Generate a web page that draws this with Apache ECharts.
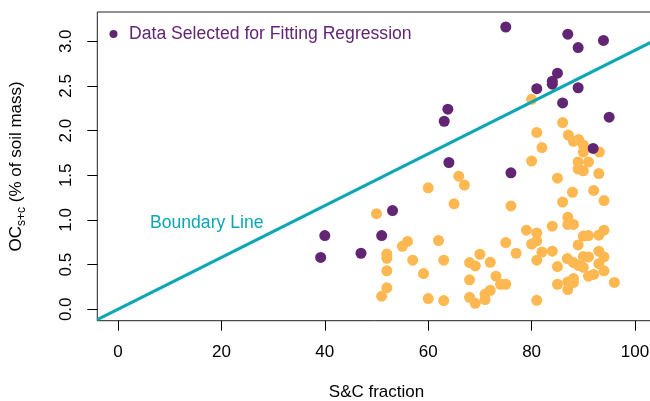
<!DOCTYPE html>
<html>
<head>
<meta charset="utf-8">
<title>boundary line</title>
<script src="https://cdn.jsdelivr.net/npm/echarts@6/dist/echarts.min.js"></script>
<style>
  html, body { margin: 0; padding: 0; background: #fff; }
  #main { width: 650px; height: 401px; }
</style>
</head>
<body>
<div id="main"></div>
<script>
// points used to fit the regression (purple)
var selX = [39.2, 40.0, 47.0, 51.0, 53.1, 64.0, 63.8, 63.1, 75.0, 87.0, 89.0,
            93.9, 85.0, 84.0, 84.0, 81.0, 89.0, 86.0, 95.0, 91.9, 76.0];
var selY = [0.58, 0.825, 0.627, 0.825, 1.105, 1.643, 2.24, 2.105, 3.16, 3.08, 2.93,
            3.01, 2.643, 2.553, 2.52, 2.47, 2.48, 2.31, 2.15, 1.80, 1.527];

// the rest of the samples (orange)
var otherX = [50.0, 60.0, 65.0, 65.9, 67.0, 56.0, 55.0, 62.0, 52.0, 52.0, 57.0,
              63.0, 52.0, 59.1, 52.0, 51.0, 60.0, 63.0,
              80.0, 81.0, 82.0, 80.0, 86.0, 76.0, 79.0, 81.0, 81.0, 80.0, 75.0,
              77.0, 82.0, 84.0, 81.0, 85.0, 70.0, 68.0, 69.1, 72.0, 68.0, 73.1,
              74.0, 75.0, 72.0, 71.0, 71.0, 68.0, 69.1, 81.0, 85.0,
              85.0, 86.0, 87.9, 92.0, 94.0, 93.0, 87.0, 87.0, 88.1, 84.0, 87.1,
              88.1, 89.1, 90.0, 90.0, 93.1, 89.0, 91.0, 89.0, 90.0, 87.0, 87.0,
              88.1, 88.1, 91.0, 92.0, 94.0, 96.0, 86.9, 88.1, 89.1, 90.0, 90.0,
              91.0, 93.0, 94.0, 93.0, 89.0, 90.0, 91.0, 93.0, 94.0];
var otherY = [1.07, 1.36, 1.18, 1.49, 1.39, 0.76, 0.705, 0.77, 0.62, 0.57, 0.55,
              0.55, 0.43, 0.40, 0.24, 0.146, 0.12, 0.097,
              2.35, 1.98, 1.81, 1.66, 2.09, 1.157, 0.885, 0.855, 0.765, 0.73, 0.747,
              0.627, 0.64, 0.65, 0.55, 0.478, 0.616, 0.523, 0.485, 0.526, 0.33, 0.37,
              0.28, 0.28, 0.213, 0.168, 0.109, 0.134, 0.067, 0.10, 0.28,
              1.467, 1.20, 1.31, 1.33, 1.217, 1.52, 1.03, 0.95, 0.95, 0.93, 1.95,
              1.88, 1.90, 1.84, 1.76, 1.76, 1.65, 1.65, 1.57, 1.55, 0.306, 0.22,
              0.344, 0.30, 0.37, 0.39, 0.43, 0.30, 0.568, 0.523, 0.49, 0.47, 0.59,
              0.586, 0.65, 0.586, 0.51, 0.72, 0.82, 0.825, 0.83, 0.885];

// boundary line end points
var lineX = [-4, 104];
var lineY = [-0.116, 3.016];

var xTicks = [0, 20, 40, 60, 80, 100];
var yTicks = [0, 0.5, 1.0, 1.5, 2.0, 2.5, 3.0];

function zip(a, b) {
  var out = [];
  for (var i = 0; i < a.length; i++) out.push([a[i], b[i]]);
  return out;
}

var purple = '#622574';
var orange = '#fdb851';
var teal = '#0aa6b4';
var font = 'Liberation Sans, Arial, Helvetica, sans-serif';

var chart = echarts.init(document.getElementById('main'), null, { renderer: 'canvas' });

var option = {
  animation: false,
  textStyle: { fontFamily: font },
  grid: {
    left: 97.3,
    width: 558.4,   // plot box runs past the right edge of the picture
    top: 12,
    height: 308.7,
    outerBoundsMode: 'none',
    show: true,
    borderColor: '#222',
    borderWidth: 1
  },
  legend: {
    data: ['Data Selected for Fitting Regression'],
    left: 104.5,
    top: 20,
    icon: 'circle',
    itemWidth: 8,
    itemHeight: 8,
    textStyle: { color: purple, fontSize: 17.6, fontFamily: font, padding: [0, 0, 0, 6.5] }
  },
  xAxis: {
    type: 'value',
    min: -4,
    max: 104,
    name: 'S&C fraction',
    nameLocation: 'middle',
    nameGap: 63,
    nameMoveOverlap: false,
    nameTextStyle: { color: '#000', fontSize: 17, fontFamily: font },
    axisLine: { show: false, onZero: false },
    axisTick: { show: true, inside: false, length: 10, lineStyle: { color: '#000' }, customValues: xTicks },
    axisLabel: { color: '#000', fontSize: 17, margin: 23, customValues: xTicks },
    splitLine: { show: false }
  },
  yAxis: {
    type: 'value',
    min: -0.128,
    max: 3.328,
    name: '{a|OC}{b|s+c}{a| (% of soil mass)}',
    nameLocation: 'middle',
    nameRotate: 90,
    nameGap: 70,
    nameMoveOverlap: false,
    nameTextStyle: {
      color: '#000',
      rich: {
        a: { fontSize: 17, fontFamily: font, color: '#000', lineHeight: 22 },
        b: { fontSize: 12, fontFamily: font, color: '#000', verticalAlign: 'bottom', lineHeight: 22, padding: [6, 0, 0, 0] }
      }
    },
    axisLine: { show: false, onZero: false },
    axisTick: { show: true, inside: false, length: 10, lineStyle: { color: '#000' }, customValues: yTicks },
    axisLabel: {
      color: '#000',
      fontSize: 17,
      rotate: 90,
      margin: 22,
      customValues: yTicks,
      formatter: function (v) { return v.toFixed(1); }
    },
    splitLine: { show: false }
  },
  graphic: [{
    type: 'text',
    left: 150,
    top: 214,
    style: { text: 'Boundary Line', fill: teal, font: '17.6px ' + font }
  }],
  series: [
    {
      name: 'others',
      type: 'scatter',
      data: zip(otherX, otherY),
      symbolSize: 11,
      itemStyle: { color: orange, opacity: 1 },
      z: 2
    },
    {
      name: 'Data Selected for Fitting Regression',
      type: 'scatter',
      data: zip(selX, selY),
      symbolSize: 11,
      itemStyle: { color: purple, opacity: 1 },
      z: 3
    },
    {
      name: 'Boundary Line',
      type: 'line',
      data: zip(lineX, lineY),
      symbol: 'none',
      lineStyle: { color: teal, width: 3 },
      z: 4
    }
  ]
};

chart.setOption(option);
</script>
</body>
</html>
